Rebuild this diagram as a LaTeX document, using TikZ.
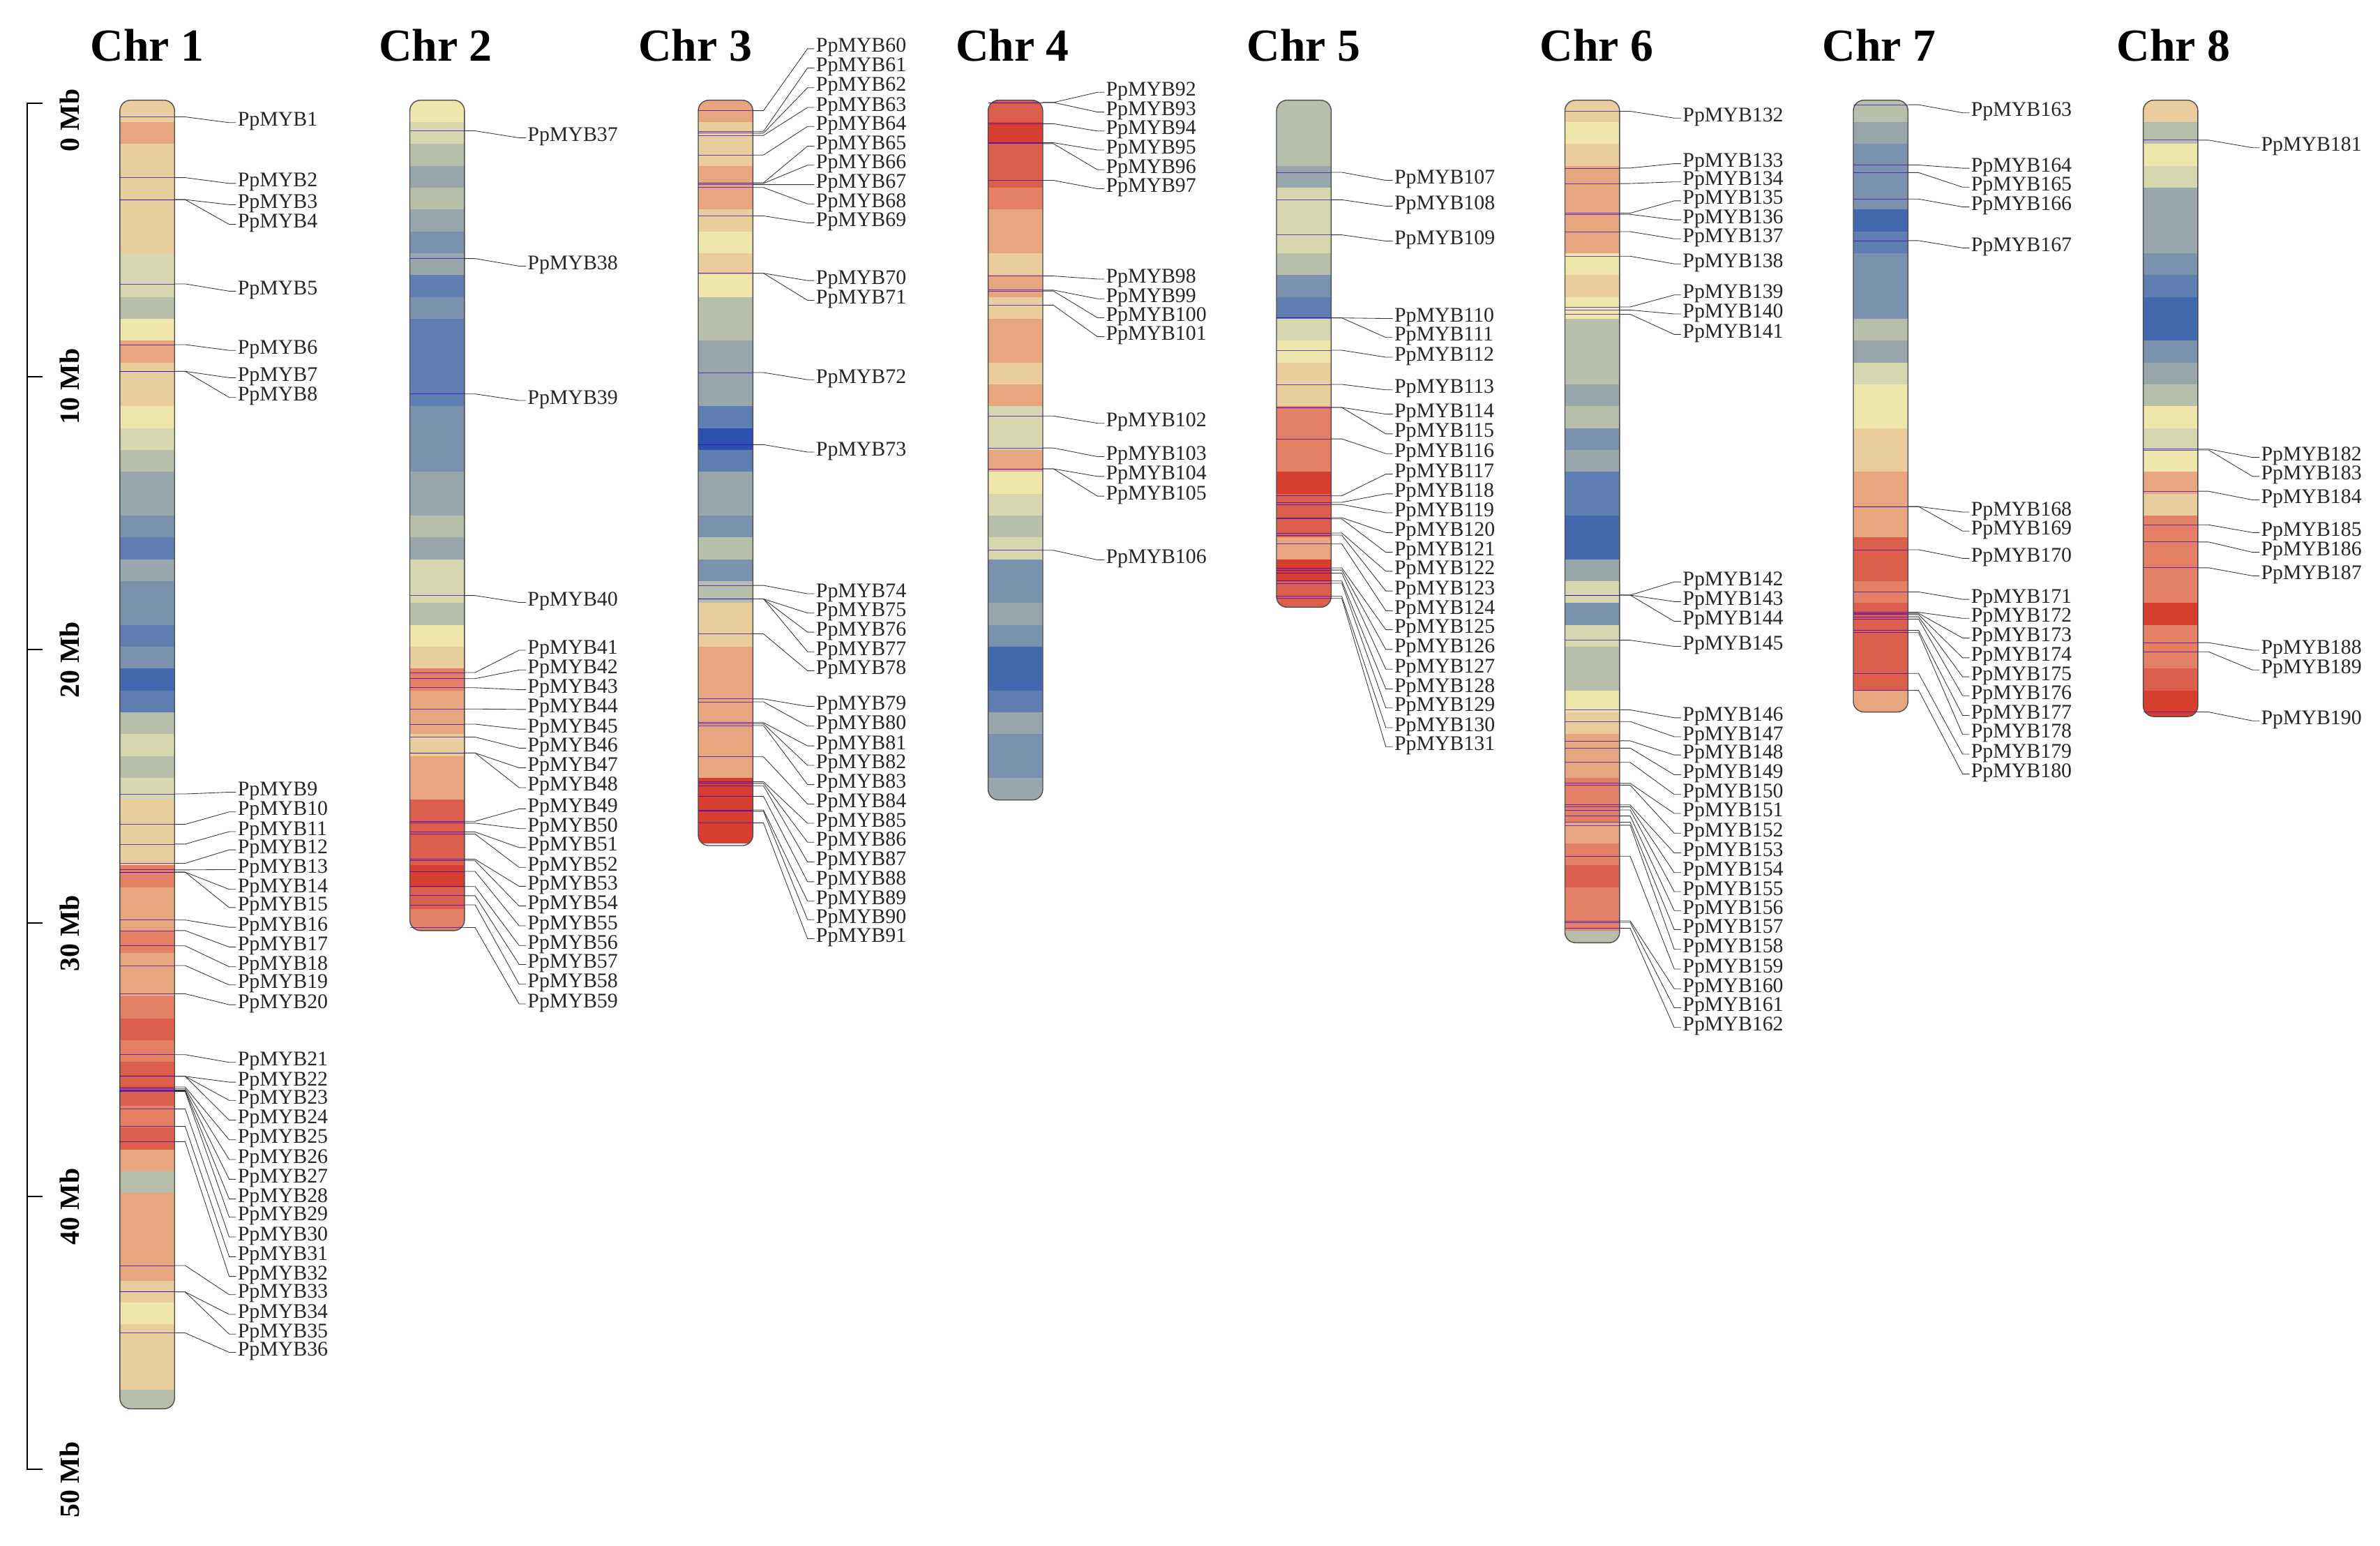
\documentclass[tikz,border=0pt]{standalone}
\usepackage{fontspec}
\setmainfont{Liberation Serif}
\definecolor{bandZ}{HTML}{2C50B0}
\definecolor{band0}{HTML}{4468AE}
\definecolor{band1}{HTML}{5F7FB2}
\definecolor{band2}{HTML}{7A92AE}
\definecolor{band3}{HTML}{97A7AC}
\definecolor{band4}{HTML}{B7BFAA}
\definecolor{band5}{HTML}{D6D7AE}
\definecolor{band6}{HTML}{EEE6AA}
\definecolor{band7}{HTML}{EACD9C}
\definecolor{band8}{HTML}{E8A680}
\definecolor{band9}{HTML}{E38066}
\definecolor{bandA}{HTML}{DB5F4C}
\definecolor{bandB}{HTML}{D63E30}
\colorlet{genec}{blue!55!violet}

\begin{document}
\begin{tikzpicture}[x=0.5mm,y=-0.5mm,
    chr/.style={draw=black!70,line width=0.9pt,rounded corners=3.5mm},
    gene/.style={draw=genec,line width=0.5pt,opacity=0.7},
    conn/.style={draw=black!80,line width=0.55pt},
    lab/.style={anchor=west,inner sep=0.5mm,yshift=-1.4mm,text height=0.66em,text depth=0pt,
        font=\fontsize{19.5}{20}\selectfont,text=black!85},
    title/.style={font=\bfseries\fontsize{43}{43}\selectfont},
    mb/.style={rotate=90,anchor=west,inner sep=0pt,font=\bfseries\fontsize{26}{26}\selectfont},
    axis/.style={line width=1.4pt}]
    \useasboundingbox (0,0) rectangle (1568,1018);

    % scale bar
    \draw[axis] (28,68) -- (18,68) -- (18,968) -- (28,968);
    \foreach \t/\v in {68/0,248/10,428/20,608/30,788/40,968/50} {
        \draw[axis] (18,\t) -- (28,\t);
        \node[mb] (mb\v) at (46,\t+32) {\v\ Mb};
    }

    % Chr 1
    \begin{scope}
        \clip[rounded corners=3.5mm] (79,66) rectangle ++(36,862);
        \foreach \c [count=\i from 0] in {7,8,7,7,7,7,7,5,5,4,6,8,7,7,6,5,4,3,3,2,1,3,2,2,1,2,0,1,4,5,4,5,7,7,7,9,8,8,9,8,8,9,A,9,A,A,9,A,8,4,8,8,8,8,7,6,7,7,7,4}
            \fill[band\c] (79,66+14.4*\i) rectangle ++(36,14.6);
    \end{scope}
    \draw[chr] (79,66) rectangle ++(36,862);
    \node[title] (chr1) at (97,30) {Chr 1};
    \foreach \g/\l [count=\k from 1] in {77/78,117/118,131.5/132,131.5/145,187/189,227/228,244.6/246,244.6/259,
        523/519,543/532,556/545,568.7/557,573/570,574.5/583,574.5/595,606/608,613/621,623/634,636/646,654.6/659,
        694.7/697,709/710,709/722,709/735,716/748,717/761,718/774,718.5/787,719/799,730.5/812,742/825,752/838,
        833.6/850,851/863,851/876,878/888} {
        \coordinate (g\k) at (115,\g);
        \node[lab] (lab\k) at (155.5,\l) {PpMYB\k};
        \draw[gene] (79,\g) -- (g\k);
        \draw[conn] (g\k) -- ++(7,0) -- ([xshift=-2.25mm]lab\k.west) -- (lab\k.west);
    }

    % Chr 2
    \begin{scope}
        \clip[rounded corners=3.5mm] (270,66) rectangle ++(36,547);
        \foreach \c [count=\i from 0] in {6,5,4,3,4,3,2,3,1,2,1,1,1,1,2,2,2,3,3,4,3,5,5,4,6,7,9,8,8,7,8,8,A,A,A,B,A,9}
            \fill[band\c] (270,66+14.4*\i) rectangle ++(36,14.6);
    \end{scope}
    \draw[chr] (270,66) rectangle ++(36,547);
    \node[title] (chr2) at (287,30) {Chr 2};
    \foreach \g/\l [count=\k from 37] in {86.2/88,170.3/172.5,259.5/261,392.3/394,443/425.5,447/438.5,453/451.5,
        467/464.5,477/477.5,485.5/490,496/503,496/516,541/530,542.2/543,548/555.5,549.4/568.5,566/581,567/594,
        574/607,584/620,590/632.5,596/645.5,611/658.5} {
        \coordinate (g\k) at (306,\g);
        \node[lab] (lab\k) at (346.5,\l) {PpMYB\k};
        \draw[gene] (270,\g) -- (g\k);
        \draw[conn] (g\k) -- ++(7,0) -- ([xshift=-2.25mm]lab\k.west) -- (lab\k.west);
    }

    % Chr 3
    \begin{scope}
        \clip[rounded corners=3.5mm] (460,66) rectangle ++(36,491);
        \foreach \c [count=\i from 0] in {8,7,7,8,8,7,6,7,6,4,4,3,3,3,1,Z,1,3,3,2,4,2,4,7,7,8,8,8,8,8,8,B,B,B}
            \fill[band\c] (460,66+14.4*\i) rectangle ++(36,14.6);
    \end{scope}
    \draw[chr] (460,66) rectangle ++(36,491);
    \node[title] (chr3) at (458,30) {Chr 3};
    \foreach \g/\l [count=\k from 60] in {72.9/29.3,86.5/42,87.7/55,89.2/68,102.1/80.5,120.4/93.5,120.8/106,
        121.6/118.8,123.5/131.5,142.2/144,180/182,180/195,245.4/247.3,292.9/295,385.6/388.3,394.5/401,394.5/413.6,
        394.5/426.5,417.5/439,460.4/462.5,462.3/475.5,476/488.5,476.7/501.3,477.9/514,498.5/526.8,514.9/539.5,
        516/552,517.6/565,524.6/578,533.5/590.8,534.4/603,542.1/615.5} {
        \coordinate (g\k) at (496,\g);
        \node[lab] (lab\k) at (536.5,\l) {PpMYB\k};
        \draw[gene] (460,\g) -- (g\k);
        \draw[conn] (g\k) -- ++(7,0) -- ([xshift=-2.25mm]lab\k.west) -- (lab\k.west);
    }

    % Chr 4
    \begin{scope}
        \clip[rounded corners=3.5mm] (651,66) rectangle ++(36,461);
        \foreach \c [count=\i from 0] in {A,B,A,A,9,8,8,7,8,7,8,8,7,8,5,5,8,6,5,4,5,2,2,3,2,0,0,1,3,2,2,3}
            \fill[band\c] (651,66+14.4*\i) rectangle ++(36,14.6);
    \end{scope}
    \draw[chr] (651,66) rectangle ++(36,461);
    \node[title] (chr4) at (667,30) {Chr 4};
    \foreach \g/\l [count=\k from 92] in {67.5/58,67.5/71,81.5/83.5,94/96,94.6/109,118.8/121.5,181.8/181,
        191.1/194,191.7/206.5,201/219,274/276,295.1/298,308.8/311,308.8/324,362.5/366} {
        \coordinate (g\k) at (687,\g);
        \node[lab] (lab\k) at (727.5,\l) {PpMYB\k};
        \draw[gene] (651,\g) -- (g\k);
        \draw[conn] (g\k) -- ++(7,0) -- ([xshift=-2.25mm]lab\k.west) -- (lab\k.west);
    }

    % Chr 5
    \begin{scope}
        \clip[rounded corners=3.5mm] (841,66) rectangle ++(36,334);
        \foreach \c [count=\i from 0] in {4,4,4,3,5,5,5,4,2,1,5,6,7,7,9,9,9,B,A,A,8,B,A,A}
            \fill[band\c] (841,66+14.4*\i) rectangle ++(36,14.6);
    \end{scope}
    \draw[chr] (841,66) rectangle ++(36,334);
    \node[title] (chr5) at (859,30) {Chr 5};
    \foreach \g/\l [count=\k from 107] in {113.5/116,131.6/133,154.7/156,209.4/207,209.4/219.5,230.7/232.5,
        253.2/254,268.4/270,268.4/283,289.1/296,326.6/309.5,330.9/322.5,332.3/335,341/348,341.8/361,351.1/373.5,
        352.5/386.5,358.3/399.5,374.1/412,375.5/425,377.5/438,382.7/451,384.2/463.5,392.8/476.5,394.2/489} {
        \coordinate (g\k) at (877,\g);
        \node[lab] (lab\k) at (917.5,\l) {PpMYB\k};
        \draw[gene] (841,\g) -- (g\k);
        \draw[conn] (g\k) -- ++(7,0) -- ([xshift=-2.25mm]lab\k.west) -- (lab\k.west);
    }

    % Chr 6
    \begin{scope}
        \clip[rounded corners=3.5mm] (1031,66) rectangle ++(36,555);
        \foreach \c [count=\i from 0] in {7,6,7,8,8,8,8,6,7,6,4,4,4,3,4,2,3,1,1,0,0,3,5,2,5,4,4,6,7,8,8,9,9,8,9,A,9,9,4}
            \fill[band\c] (1031,66+14.4*\i) rectangle ++(36,14.6);
    \end{scope}
    \draw[chr] (1031,66) rectangle ++(36,555);
    \node[title] (chr6) at (1052,30) {Chr 6};
    \foreach \g/\l [count=\k from 132] in {73.3/75,110.7/105,120.9/117,140.4/129.5,141.2/142,152.6/154.5,
        168.8/171,202.2/191.5,204.2/204,207/217.5,392/380.5,392/393.5,392/406.5,421.7/423,467.6/470,475.3/482.5,
        488/494.5,492.8/507.5,502.2/520.5,516/533,517.2/546,530.2/559,531.4/572,533.5/584.5,537.5/597,541.6/609.5,
        543.6/622.5,564/635.5,606.6/648.5,607.5/661,611.5/674} {
        \coordinate (g\k) at (1067,\g);
        \node[lab] (lab\k) at (1107.5,\l) {PpMYB\k};
        \draw[gene] (1031,\g) -- (g\k);
        \draw[conn] (g\k) -- ++(7,0) -- ([xshift=-2.25mm]lab\k.west) -- (lab\k.west);
    }

    % Chr 7
    \begin{scope}
        \clip[rounded corners=3.5mm] (1221,66) rectangle ++(36,403);
        \foreach \c [count=\i from 0] in {4,3,2,2,2,0,1,2,2,2,4,3,5,6,6,7,7,8,8,8,A,A,9,A,A,A,A,8}
            \fill[band\c] (1221,66+14.4*\i) rectangle ++(36,14.6);
    \end{scope}
    \draw[chr] (1221,66) rectangle ++(36,403);
    \node[title] (chr7) at (1238,30) {Chr 7};
    \foreach \g/\l [count=\k from 163] in {69/71.5,108.7/108,113.7/120.5,131.1/133.5,158.5/160.5,333.7/334.5,
        333.7/347,362.1/365,389.9/392,403.3/404.5,404/417.5,404.8/430.5,406.3/443,407.8/455.5,415.2/468.5,
        416.7/481,443.6/494,454.7/507} {
        \coordinate (g\k) at (1257,\g);
        \node[lab] (lab\k) at (1297.5,\l) {PpMYB\k};
        \draw[gene] (1221,\g) -- (g\k);
        \draw[conn] (g\k) -- ++(7,0) -- ([xshift=-2.25mm]lab\k.west) -- (lab\k.west);
    }

    % Chr 8
    \begin{scope}
        \clip[rounded corners=3.5mm] (1412,66) rectangle ++(36,406);
        \foreach \c [count=\i from 0] in {7,4,6,5,3,3,3,2,1,0,0,2,3,4,6,5,6,8,7,9,9,9,9,B,9,9,A,B,B}
            \fill[band\c] (1412,66+14.4*\i) rectangle ++(36,14.6);
    \end{scope}
    \draw[chr] (1412,66) rectangle ++(36,406);
    \node[title] (chr8) at (1432,30) {Chr 8};
    \foreach \g/\l [count=\k from 181] in {92.3/94.5,295.8/298.5,296.4/311,323.6/326.5,345.7/348,357/361,
        374/376.5,423.3/425.5,429.3/438.5,469/472} {
        \coordinate (g\k) at (1448,\g);
        \node[lab] (lab\k) at (1488.5,\l) {PpMYB\k};
        \draw[gene] (1412,\g) -- (g\k);
        \draw[conn] (g\k) -- ++(7,0) -- ([xshift=-2.25mm]lab\k.west) -- (lab\k.west);
    }
\end{tikzpicture}
\end{document}
